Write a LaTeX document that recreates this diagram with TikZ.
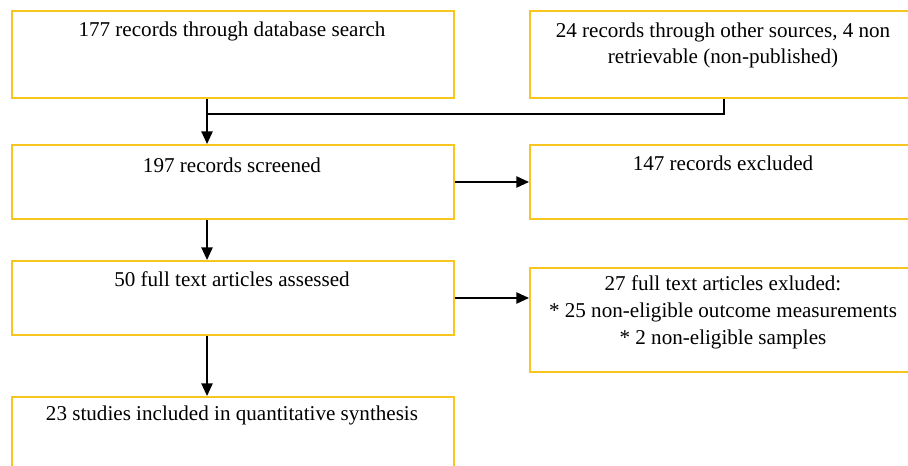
\documentclass[tikz,border=0pt]{standalone}
\usepackage{fontspec}
\setmainfont{Liberation Serif}
\usepackage{tikz}
\usetikzlibrary{arrows.meta}
\definecolor{boxgold}{RGB}{248,196,30}

\begin{document}
\begin{tikzpicture}[x=0.025cm,y=-0.025cm,
    box/.style={draw=boxgold,line width=1.4pt,fill=white,anchor=north west,inner sep=0pt},
    lbl/.style={font=\fontsize{15}{19}\selectfont,align=center,anchor=base,inner sep=0pt},
    conn/.style={line width=1.2pt},
    arr/.style={conn,-{Triangle[length=9pt,width=8pt]}}]
  \useasboundingbox[fill=white] (0,0) rectangle (908,466);
  \clip (0,0) rectangle (908,466);
  % boxes
  \node[box,minimum width=11.05cm,minimum height=2.175cm] (A) at (11,10) {};
  \node[box,minimum width=9.7cm,minimum height=2.175cm] (B) at (529,10) {};
  \node[box,minimum width=11.05cm,minimum height=1.85cm] (C) at (11,144) {};
  \node[box,minimum width=9.7cm,minimum height=1.85cm] (D) at (529,144) {};
  \node[box,minimum width=11.05cm,minimum height=1.85cm] (E) at (11,260) {};
  \node[box,minimum width=9.7cm,minimum height=2.6cm] (F) at (529,267) {};
  \node[box,minimum width=11.05cm,minimum height=2cm] (G) at (11,396) {};
  % texts (base = last line)
  \node[lbl] (tA) at (232,37) {177 records through database search};
  \node[lbl] (tB) at (723,64) {24 records through other sources, 4 non\\retrievable (non-published)};
  \node[lbl] (tC) at (232,172) {197 records screened};
  \node[lbl] (tD) at (723,170) {147 records excluded};
  \node[lbl] (tE) at (232,286) {50 full text articles assessed};
  \node[lbl] (tF) at (723,344) {27 full text articles exluded:\\* 25 non-eligible outcome measurements\\* 2 non-eligible samples};
  \node[lbl] (tG) at (232,420) {23 studies included in quantitative synthesis};
  % connectors
  \coordinate (join) at (206,114);
  \draw[conn] (B.south) |- (join);
  \draw[arr] ([xshift=-0.65cm]A.south) -- ([xshift=-0.65cm]C.north);
  \draw[arr] (C.east) -- (C.east -| D.west);
  \draw[arr] ([xshift=-0.65cm]C.south) -- ([xshift=-0.65cm]E.north);
  \draw[arr] (E.east) -- (E.east -| F.west);
  \draw[arr] ([xshift=-0.65cm]E.south) -- ([xshift=-0.65cm]G.north);
\end{tikzpicture}
\end{document}
